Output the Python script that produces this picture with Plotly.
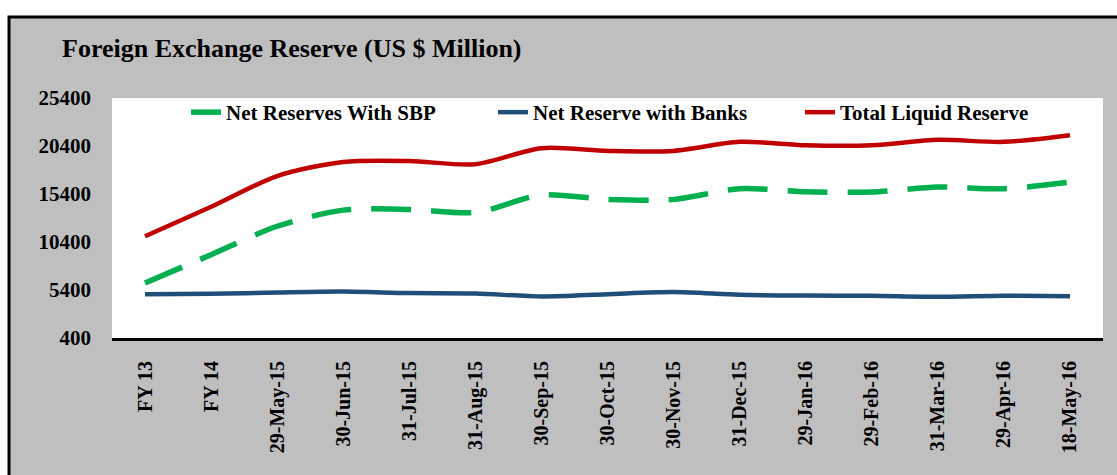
import plotly.graph_objects as go

categories = ["FY 13", "FY 14", "29-May-15", "30-Jun-15", "31-Jul-15", "31-Aug-15",
              "30-Sep-15", "30-Oct-15", "30-Nov-15", "31-Dec-15", "29-Jan-16",
              "29-Feb-16", "31-Mar-16", "29-Apr-16", "18-May-16"]
net_sbp = [6120, 9080, 12040, 13720, 13790, 13480, 15290, 14840, 14840, 15950,
           15640, 15600, 16120, 15950, 16640]
net_banks = [4970, 5000, 5140, 5240, 5080, 5040, 4720, 4960, 5180, 4900,
             4820, 4790, 4690, 4790, 4760]
total_liquid = [11000, 14070, 17270, 18740, 18840, 18500, 20170, 19890, 19890, 20830,
                20480, 20480, 21040, 20830, 21530]
y_ticks = [400, 5400, 10400, 15400, 20400, 25400]

W, H = 1117, 475
L, R, T, B = 112, 14, 98, 137
pw, ph = W - L - R, H - T - B

def px_x(p):
    return (p - L) / pw

def px_y(p):
    return (H - B - p) / ph

FONT = "Liberation Serif"

fig = go.Figure()
fig.add_trace(go.Scatter(x=categories, y=net_sbp, name="Net Reserves With SBP", mode="lines",
                         line=dict(color="#00B050", width=5.5, dash="40px,20px", shape="spline", smoothing=0.8)))
fig.add_trace(go.Scatter(x=categories, y=net_banks, name="Net Reserve with Banks", mode="lines",
                         line=dict(color="#1F4E79", width=4.5, shape="spline", smoothing=0.8)))
fig.add_trace(go.Scatter(x=categories, y=total_liquid, name="Total Liquid Reserve", mode="lines",
                         line=dict(color="#C00000", width=4.5, shape="spline", smoothing=0.8)))

fig.update_layout(
    width=W, height=H,
    margin=dict(l=L, r=R, t=T, b=B, autoexpand=False),
    paper_bgcolor="white",
    plot_bgcolor="white",
    font=dict(family=FONT, color="black", size=20, weight="bold"),
    title=dict(text="Foreign Exchange Reserve (US $ Million)", xref="container", yref="container",
               x=62 / W, y=1 - 48 / H, xanchor="left", yanchor="middle",
               font=dict(family=FONT, size=26, color="black", weight="bold")),
    showlegend=True,
    legend=dict(orientation="h", x=px_x(186), y=1.025, xanchor="left", yanchor="top",
                bgcolor="rgba(0,0,0,0)", font=dict(family=FONT, size=21, weight="bold"),
                entrywidth=262, entrywidthmode="pixels", tracegroupgap=0),
    xaxis=dict(type="category", range=[-0.5, len(categories) - 0.5], showgrid=False,
               showline=True, linecolor="black", linewidth=3, ticks="", tickangle=-90,
               ticklabelstandoff=12, tickfont=dict(family=FONT, size=20, weight="bold"),
               zeroline=False, fixedrange=True),
    yaxis=dict(range=[400, 25400], tickvals=y_ticks, ticktext=[str(v) for v in y_ticks],
               showgrid=False, showline=False, ticks="", zeroline=False,
               ticklabelstandoff=20, tickfont=dict(family=FONT, size=21, weight="bold"),
               fixedrange=True),
    shapes=[
        dict(type="rect", xref="paper", yref="paper", layer="below",
             x0=px_x(9), x1=px_x(W + 20), y0=px_y(H + 20), y1=px_y(17),
             fillcolor="#BFBFBF", line=dict(color="black", width=3)),
        dict(type="rect", xref="paper", yref="paper", layer="below",
             x0=0, x1=1, y0=0, y1=1, fillcolor="white", line=dict(width=0)),
    ],
)

fig.write_html("out.html")
